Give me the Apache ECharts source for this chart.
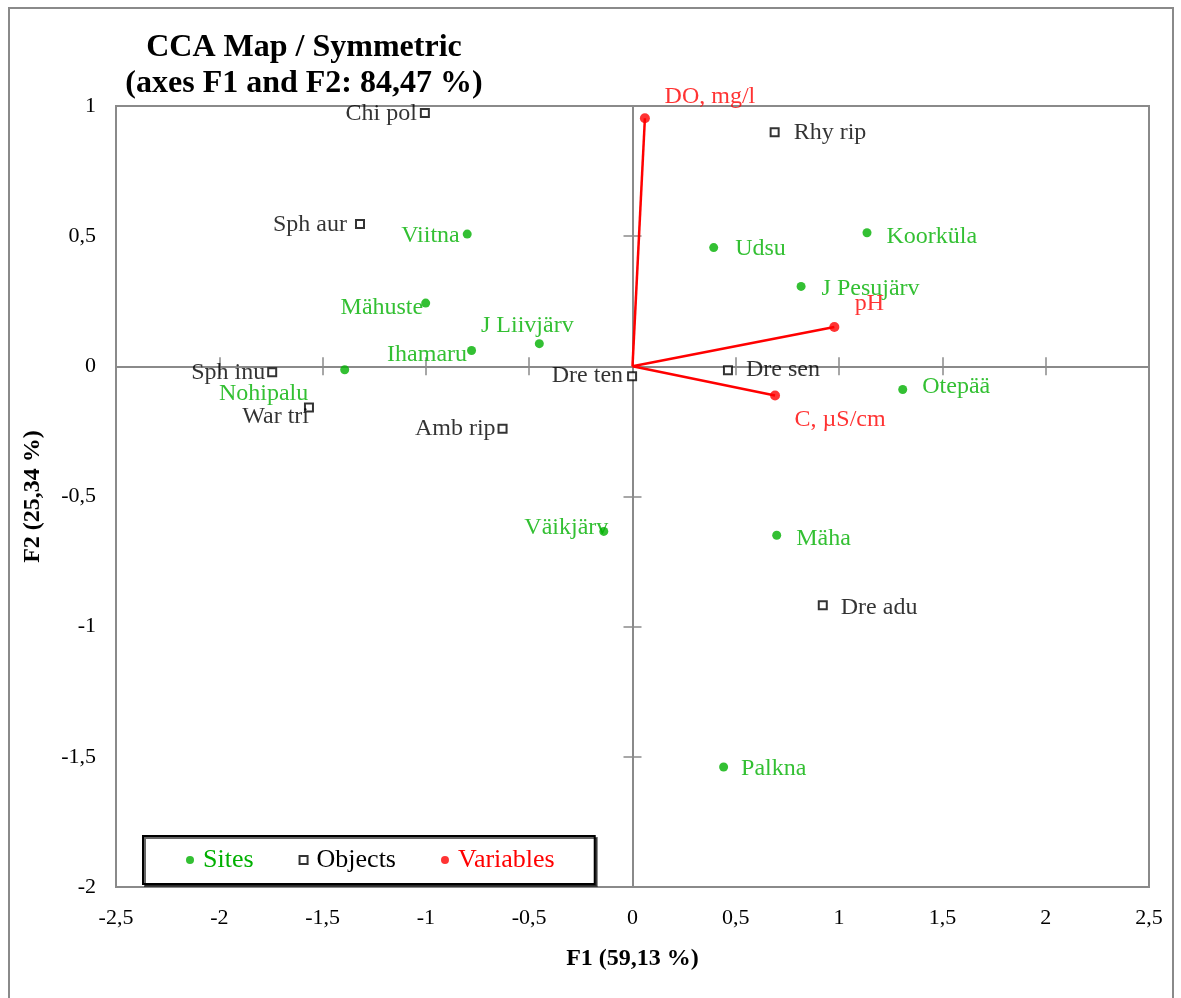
<!DOCTYPE html>
<html>
<head>
<meta charset="utf-8">
<script src="https://cdn.jsdelivr.net/npm/echarts@6/dist/echarts.min.js"></script>
<style>html,body{margin:0;padding:0;background:#fff}#c{width:1181px;height:998px}</style>
</head>
<body>
<div id="c"></div>
<script>
// ---- data ----
const titleLines = ['CCA Map / Symmetric', '(axes F1 and F2: 84,47 %)'];
const xAxisTitle = 'F1 (59,13 %)';
const yAxisTitle = 'F2 (25,34 %)';
const legendNames = ['Sites', 'Objects', 'Variables'];

const siteNames = ['Viitna', 'Mähuste', 'Ihamaru', 'J Liivjärv', 'Nohipalu', 'Väikjärv', 'Udsu', 'Koorküla', 'J Pesujärv', 'Otepää', 'Mäha', 'Palkna'];
const siteX = [-0.800, -1.001, -0.779, -0.451, -1.393, -0.139, 0.393, 1.135, 0.816, 1.308, 0.698, 0.441];
const siteY = [0.508, 0.243, 0.061, 0.087, -0.013, -0.634, 0.456, 0.513, 0.307, -0.089, -0.649, -1.539];

const objectNames = ['Chi pol', 'Rhy rip', 'Sph aur', 'Sph inu', 'War tri', 'Amb rip', 'Dre ten', 'Dre sen', 'Dre adu'];
const objectX = [-1.005, 0.688, -1.319, -1.744, -1.566, -0.629, -0.002, 0.462, 0.921];
const objectY = [0.973, 0.899, 0.547, -0.023, -0.158, -0.240, -0.038, -0.015, -0.918];

const variableNames = ['DO, mg/l', 'pH', 'C, µS/cm'];
const variableX = [0.060, 0.977, 0.690];
const variableY = [0.953, 0.151, -0.112];

const xMin = -2.5, xMax = 2.5, xStep = 0.5;
const yMin = -2, yMax = 1, yStep = 0.5;

// ---- label placement (style only) : [position, distance, dx, dy] ----
const siteLabelLayout = [
  ['left', 3, 0, 2], ['left', -2, 0, 5], ['left', 0, 0, 4], ['top', 1, -12, 0],
  ['left', 32, 0, 24], ['left', -9, 0, -4], ['right', 17, 0, 1], ['right', 15, 0, 4],
  ['right', 16, 0, 2], ['right', 15, 0, -3], ['right', 15, 0, 3], ['right', 13, 0, 2]
];
const objectLabelLayout = [
  ['left', 3, 0, 1], ['right', 14, 0, 0], ['left', 8, 0, 1], ['left', 2, 0, 0],
  ['left', -5, 0, 9], ['left', 2, 0, 0], ['left', 4, 0, -1], ['right', 13, 0, -1], ['right', 13, 0, 2]
];
const variableLabelLayout = [
  ['top', 5, 65, 0], ['top', 5, 35, -1], ['bottom', 7, 65, 0]
];

const FONT = '"Liberation Serif", "Times New Roman", serif';
const GREEN = '#00b000';
const RED = '#ff0000';
const GRAY = '#8a8a8a';

function buildPoints(names, xs, ys, layout) {
  return names.map((n, i) => ({
    name: n,
    value: [xs[i], ys[i]],
    label: { position: layout[i][0], distance: layout[i][1], offset: [layout[i][2], layout[i][3]] }
  }));
}
const fmt = v => String(v).replace('.', ',');

function zeroAxis(dir, inside) {
  return {
    type: 'value',
    min: dir === 'x' ? xMin : yMin,
    max: dir === 'x' ? xMax : yMax,
    interval: dir === 'x' ? xStep : yStep,
    position: dir === 'x' ? 'bottom' : 'left',
    axisLine: { show: true, onZero: true, onZeroAxisIndex: 0, lineStyle: { color: GRAY, width: 2 } },
    axisTick: { show: true, inside: inside, length: 9, lineStyle: { color: GRAY, width: 1.5 } },
    axisLabel: { show: false },
    splitLine: { show: false }
  };
}

const chart = echarts.init(document.getElementById('c'), null, { renderer: 'canvas' });

const vectorSeries = variableNames.map((n, i) => ({
  type: 'line',
  data: [[0, 0], [variableX[i], variableY[i]]],
  symbol: 'none',
  silent: true,
  z: 3,
  lineStyle: { color: RED, width: 2.5 }
}));

chart.setOption({
  animation: false,
  backgroundColor: '#fff',
  title: {
    text: titleLines.join('\n'),
    left: 299,
    top: 25,
    textAlign: 'center',
    textStyle: { fontSize: 32, fontWeight: 'bold', fontFamily: FONT, color: '#000', lineHeight: 36 }
  },
  graphic: [{
    type: 'rect', z: -10, silent: true,
    shape: { x: 9, y: 8, width: 1164, height: 1010 },
    style: { fill: 'none', stroke: GRAY, lineWidth: 2 }
  }],
  legend: {
    left: 143, top: 836,
    itemWidth: 16, itemHeight: 8, itemGap: 45,
    padding: [11, 40, 11, 43],
    borderColor: '#000', borderWidth: 2,
    backgroundColor: '#fff',
    shadowColor: 'rgba(0,0,0,0.6)', shadowOffsetX: 2, shadowOffsetY: 2,
    selectedMode: false,
    symbolKeepAspect: true,
    textStyle: { fontSize: 26, fontFamily: FONT },
    data: [
      { name: legendNames[0], icon: 'circle', textStyle: { color: GREEN } },
      { name: legendNames[1], icon: 'path://M0 0H10V10H0Z', textStyle: { color: '#000' } },
      { name: legendNames[2], icon: 'circle', textStyle: { color: RED } }
    ]
  },
  grid: {
    left: 116, right: 32, top: 106, bottom: 111,
    show: true, borderColor: GRAY, borderWidth: 2, backgroundColor: 'transparent'
  },
  xAxis: [
    {
      type: 'value', min: xMin, max: xMax, interval: xStep, position: 'bottom',
      axisLine: { show: false, onZero: false }, axisTick: { show: false }, splitLine: { show: false },
      axisLabel: { margin: 20, fontSize: 22, fontFamily: FONT, color: '#000', formatter: fmt },
      name: xAxisTitle, nameLocation: 'middle', nameGap: 60,
      nameTextStyle: { fontWeight: 'bold', fontSize: 24, fontFamily: FONT, color: '#000' }
    },
    zeroAxis('x', false),
    zeroAxis('x', true)
  ],
  yAxis: [
    {
      type: 'value', min: yMin, max: yMax, interval: yStep, position: 'left',
      axisLine: { show: false, onZero: false }, axisTick: { show: false }, splitLine: { show: false },
      axisLabel: { margin: 20, fontSize: 22, fontFamily: FONT, color: '#000', formatter: fmt },
      name: yAxisTitle, nameLocation: 'middle', nameGap: 71, nameRotate: 90,
      nameTextStyle: { fontWeight: 'bold', fontSize: 24, fontFamily: FONT, color: '#000' }
    },
    zeroAxis('y', false),
    zeroAxis('y', true)
  ],
  series: vectorSeries.concat([
    {
      name: legendNames[0], type: 'scatter', symbol: 'circle', symbolSize: 9, z: 5,
      itemStyle: { color: GREEN },
      label: { show: true, formatter: '{b}', color: GREEN, fontSize: 24, fontFamily: FONT },
      data: buildPoints(siteNames, siteX, siteY, siteLabelLayout)
    },
    {
      name: legendNames[1], type: 'scatter', symbol: 'rect', symbolSize: 8, z: 5,
      itemStyle: { color: '#fff', borderColor: '#000', borderWidth: 2 },
      label: { show: true, formatter: '{b}', color: '#000', fontSize: 24, fontFamily: FONT },
      data: buildPoints(objectNames, objectX, objectY, objectLabelLayout)
    },
    {
      name: legendNames[2], type: 'scatter', symbol: 'circle', symbolSize: 10, z: 6,
      itemStyle: { color: RED },
      label: { show: true, formatter: '{b}', color: RED, fontSize: 24, fontFamily: FONT },
      data: buildPoints(variableNames, variableX, variableY, variableLabelLayout)
    }
  ])
});
</script>
</body>
</html>
